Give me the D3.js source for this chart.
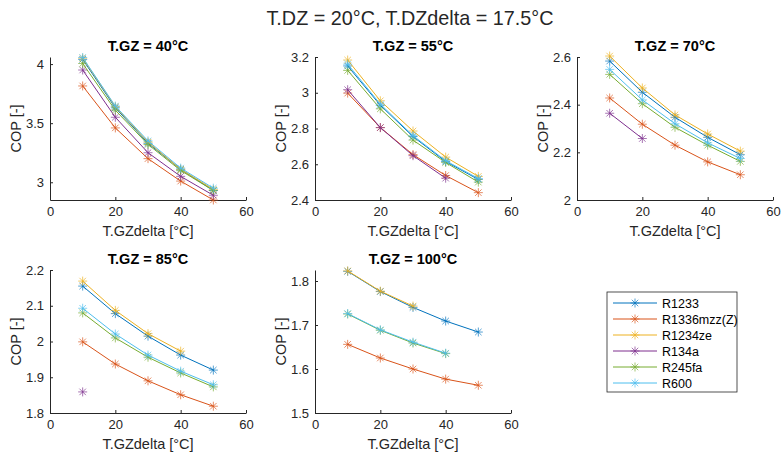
<!DOCTYPE html>
<html>
<head>
<meta charset="utf-8">
<script src="https://cdn.jsdelivr.net/npm/d3@7"></script>
<style>
  body { margin: 0; background: #fff; }
  svg { font-family: "Liberation Sans", Arial, sans-serif; }
</style>
</head>
<body>
<svg id="svg"></svg>
<script>
const WIDTH = 781, HEIGHT = 457;

// data, one array per refrigerant and panel (null = no point)
const deltas = [10, 20, 30, 40, 50];
const fluids = ['R1233', 'R1336mzz(Z)', 'R1234ze', 'R134a', 'R245fa', 'R600'];
const colors = ['#0072BD', '#D95319', '#EDB120', '#7E2F8E', '#77AC30', '#4DBEEE'];
const panelTitles = ['T.GZ = 40°C', 'T.GZ = 55°C', 'T.GZ = 70°C', 'T.GZ = 85°C', 'T.GZ = 100°C'];

const cop40 = [
  [4.04, 3.63, 3.33, 3.11, 2.93],
  [3.815, 3.46, 3.20, 3.01, 2.85],
  [4.05, 3.64, 3.34, 3.11, 2.94],
  [3.95, 3.55, 3.25, 3.05, 2.89],
  [4.005, 3.61, 3.32, 3.10, 2.93],
  [4.056, 3.645, 3.35, 3.12, 2.95]
];
const cop55 = [
  [3.15, 2.93, 2.755, 2.615, 2.515],
  [2.998, 2.805, 2.654, 2.537, 2.441],
  [3.183, 2.955, 2.786, 2.64, 2.532],
  [3.017, 2.805, 2.648, 2.522, null],
  [3.125, 2.91, 2.735, 2.61, 2.50],
  [3.16, 2.936, 2.76, 2.62, 2.52]
];
const cop70 = [
  [2.583, 2.452, 2.347, 2.263, 2.19],
  [2.428, 2.318, 2.23, 2.16, 2.106],
  [2.604, 2.47, 2.357, 2.277, 2.205],
  [2.364, 2.258, null, null, null],
  [2.527, 2.404, 2.305, 2.23, 2.162],
  [2.548, 2.42, 2.32, 2.24, 2.174]
];
const cop85 = [
  [2.155, 2.078, 2.015, 1.962, 1.92],
  [1.999, 1.937, 1.89, 1.851, 1.819],
  [2.169, 2.087, 2.022, 1.973, null],
  [1.859, null, null, null, null],
  [2.08, 2.01, 1.956, 1.912, 1.873],
  [2.093, 2.021, 1.962, 1.917, 1.879]
];
const cop100 = [
  [1.822, 1.776, 1.74, 1.709, 1.684],
  [1.656, 1.625, 1.60, 1.577, 1.563],
  [1.823, 1.777, 1.743, null, null],
  [null, null, null, null, null],
  [1.725, 1.688, 1.659, 1.635, null],
  [1.726, 1.689, 1.661, 1.636, null]
];
const panelData = [cop40, cop55, cop70, cop85, cop100];

const yDomains = [[2.85, 4.06], [2.4, 3.2], [2, 2.6], [1.8, 2.2], [1.5, 1.825]];
const yTicks = [[3, 3.5, 4], [2.4, 2.6, 2.8, 3, 3.2], [2, 2.2, 2.4, 2.6], [1.8, 1.9, 2, 2.1, 2.2], [1.5, 1.6, 1.7, 1.8]];
const xTicks = [0, 20, 40, 60];

// layout
const lefts = [50, 315, 577, 50, 315];
const tops = [57, 57, 57, 270, 270];
const PW = 196, PH = 143;
const AXIS = '#262626', TEXT = '#262626';

const svg = d3.select('#svg').attr('width', WIDTH).attr('height', HEIGHT);

svg.append('text')
  .attr('x', 410).attr('y', 25)
  .attr('text-anchor', 'middle')
  .attr('font-size', 19.8).attr('fill', TEXT)
  .text('T.DZ = 20°C, T.DZdelta = 17.5°C');

function asterisk(g, x, y, c) {
  const r = 4.5, d = r * 0.72;
  const p = `M${x - r},${y}H${x + r}M${x},${y - r}V${y + r}` +
    `M${x - d},${y - d}L${x + d},${y + d}M${x - d},${y + d}L${x + d},${y - d}`;
  g.append('path').attr('d', p).attr('stroke', c).attr('stroke-width', 0.9).attr('fill', 'none').attr('opacity', 0.75);
}

panelData.forEach((pd, k) => {
  const g = svg.append('g').attr('transform', `translate(${lefts[k]},${tops[k]})`);
  const x = d3.scaleLinear().domain([0, 60]).range([0, PW]);
  const y = d3.scaleLinear().domain(yDomains[k]).range([PH, 0]);

  // axes
  const xa = g.append('g').attr('transform', `translate(0,${PH})`)
    .call(d3.axisBottom(x).tickValues(xTicks).tickSize(-3).tickPadding(7).tickSizeOuter(0));
  const ya = g.append('g')
    .call(d3.axisLeft(y).tickValues(yTicks[k]).tickFormat(d3.format('~g')).tickSize(-3).tickPadding(6).tickSizeOuter(0));
  [xa, ya].forEach(a => {
    a.select('.domain').attr('stroke', AXIS).attr('stroke-width', 1);
    a.selectAll('.tick line').attr('stroke', AXIS);
    a.selectAll('.tick text').attr('fill', TEXT).attr('font-size', 13)
      .attr('font-family', '"Liberation Sans", Arial, sans-serif');
  });

  g.append('text').attr('x', PW / 2).attr('y', -6).attr('text-anchor', 'middle')
    .attr('font-size', 14.5).attr('font-weight', 'bold').attr('fill', '#000')
    .text(panelTitles[k]);
  g.append('text').attr('x', PW / 2).attr('y', PH + 36).attr('text-anchor', 'middle')
    .attr('font-size', 14.5).attr('fill', TEXT).text('T.GZdelta [°C]');
  g.append('text').attr('transform', `translate(-29,${PH / 2}) rotate(-90)`)
    .attr('text-anchor', 'middle').attr('font-size', 14.5).attr('fill', TEXT).text('COP [-]');

  const line = d3.line().defined(d => d[1] != null).x(d => x(d[0])).y(d => y(d[1]));
  pd.forEach((vals, s) => {
    const pts = deltas.map((dx, i) => [dx, vals[i]]);
    g.append('path').attr('d', line(pts)).attr('fill', 'none')
      .attr('stroke', colors[s]).attr('stroke-width', 1);
    pts.filter(p => p[1] != null).forEach(p => asterisk(g, x(p[0]), y(p[1]), colors[s]));
  });
});

// legend
const lg = svg.append('g').attr('transform', 'translate(607,292)');
lg.append('rect').attr('width', 130).attr('height', 100).attr('fill', '#fff')
  .attr('stroke', AXIS).attr('stroke-width', 0.8);
fluids.forEach((f, i) => {
  const yy = 11 + i * 16;
  lg.append('line').attr('x1', 6).attr('x2', 50).attr('y1', yy).attr('y2', yy)
    .attr('stroke', colors[i]).attr('stroke-width', 1);
  asterisk(lg, 28, yy, colors[i]);
  lg.append('text').attr('x', 55).attr('y', yy + 4.5).attr('font-size', 12.5)
    .attr('fill', '#000').text(f);
});
</script>
</body>
</html>
